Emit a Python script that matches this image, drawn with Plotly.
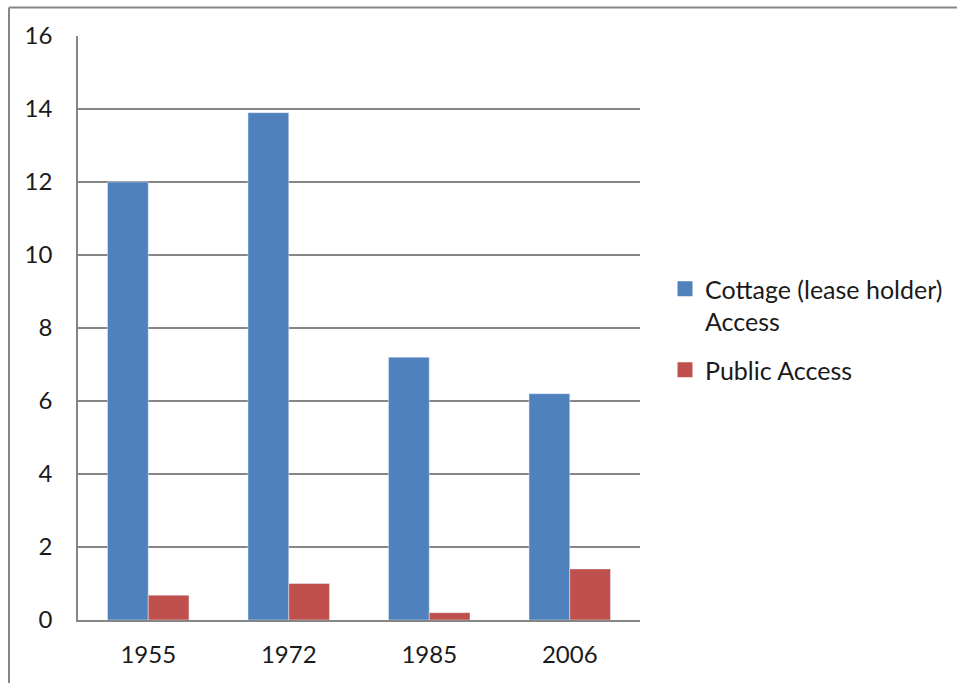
import plotly.graph_objects as go

years = ["1955", "1972", "1985", "2006"]
cottage = [12.0, 13.9, 7.2, 6.2]
public = [0.68, 1.0, 0.2, 1.4]
series_names = ["Cottage (lease holder)<br>Access", "Public Access"]
colors = ["#4F81BD", "#C0504D"]
y_ticks = [0, 2, 4, 6, 8, 10, 12, 14, 16]

W, H = 957, 683
L, R, T, B = 78, 640, 36, 620

fig = go.Figure()
fig.add_bar(x=years, y=cottage, name=series_names[0], marker_color=colors[0], showlegend=False)
fig.add_bar(x=years, y=public, name=series_names[1], marker_color=colors[1], showlegend=False)
for i, (nm, c) in enumerate(zip(series_names, colors)):
    fig.add_scatter(x=[None], y=[None], mode="markers", name=nm, legendgroup=f"g{i}",
                    marker=dict(symbol="square", size=15, color=c))

fam = "Lato, 'Open Sans', sans-serif"
font = dict(family=fam, size=24, color="#1a1a1a")

def px(x):
    return (x - L) / (R - L)

def py(y):
    return (B - y) / (B - T)

border = dict(color="#868686", width=2)
fig.update_layout(
    width=W, height=H,
    margin=dict(l=L, r=W - R, t=T, b=H - B, pad=0, autoexpand=False),
    paper_bgcolor="white", plot_bgcolor="white",
    barmode="group", bargap=0.42, bargroupgap=0,
    font=font,
    showlegend=True,
    legend=dict(x=px(665), y=py(266), xanchor="left", yanchor="top", valign="top",
                font=dict(family=fam, size=25, color="#1a1a1a"),
                tracegroupgap=13, itemwidth=30, bgcolor="rgba(0,0,0,0)"),
    xaxis=dict(showline=True, linecolor="#868686", linewidth=1.5,
               ticks="", ticklabelstandoff=12, showgrid=False),
    yaxis=dict(range=[0, 16], tickvals=y_ticks, showgrid=True, gridcolor="#868686",
               gridwidth=1.5, showline=True, linecolor="#868686", linewidth=1.5,
               ticks="", ticklabelstandoff=19, zeroline=False),
    shapes=[
        dict(type="line", xref="paper", yref="paper",
             x0=px(9), x1=px(1000), y0=py(7.5), y1=py(7.5), line=border, layer="below"),
        dict(type="line", xref="paper", yref="paper",
             x0=px(9), x1=px(9), y0=py(7.5), y1=py(720), line=border, layer="below"),
    ],
)

fig.write_html(
    "out.html",
    config={"displayModeBar": False},
    post_script="document.body.style.margin='0';document.body.style.overflow='hidden';",
)
